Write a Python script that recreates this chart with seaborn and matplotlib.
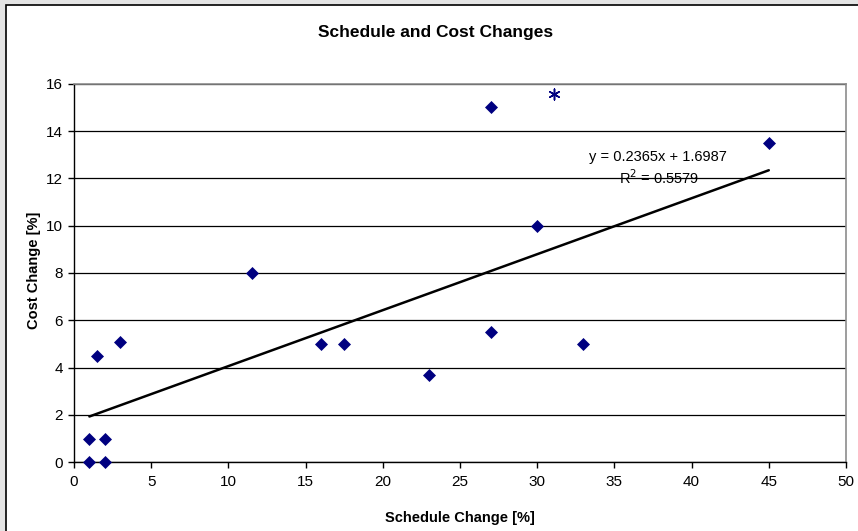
import seaborn as sns
import matplotlib.pyplot as plt
import pandas as pd
import numpy as np
from matplotlib.patches import Rectangle

sns.set_theme(style="white")
plt.rcParams['font.family'] = ['Liberation Sans', 'DejaVu Sans']
plt.rcParams.update({"text.color": "black", "axes.labelcolor": "black",
                     "xtick.color": "black", "ytick.color": "black"})

# Values
schedule_change = [1, 2, 1, 2, 1.5, 3, 11.5, 16, 17.5, 23, 27, 27, 30, 33, 45]
cost_change = [0, 0, 1, 1, 4.5, 5.1, 8, 5, 5, 3.7, 15, 5.5, 10, 5, 13.5]

# Trendline as reported on the chart
slope = 0.2365
intercept = 1.6987
r_squared = 0.5579

# stray asterisk marker
star_x = [31.1]
star_y = [15.57]

data = pd.DataFrame({"Schedule Change [%]": schedule_change,
                     "Cost Change [%]": cost_change})

fig = plt.figure(figsize=(8.58, 5.31), dpi=100)
fig.patch.set_facecolor("#E4E4E4")
# white chart area with black border
fig.patches.append(Rectangle((0.007, -0.02), 1.1, 1.0106, transform=fig.transFigure,
                             facecolor="white", edgecolor="black", linewidth=1.2, zorder=-1))

ax = fig.add_axes([0.0862, 0.1294, 0.8998, 0.713])
ax.set_facecolor("white")

sns.scatterplot(data=data, x="Schedule Change [%]", y="Cost Change [%]", ax=ax,
                marker="D", s=44, color="#000080", edgecolor="#000080", linewidth=0,
                zorder=4, clip_on=False)

# linear trendline from first to last x
xs = np.array([min(schedule_change), max(schedule_change)])
ax.plot(xs, slope * xs + intercept, color="black", linewidth=1.8, zorder=3)

ax.scatter(star_x, star_y, marker=(6, 2, 0), s=60, color="#000080", linewidth=1.1, zorder=5)

ax.text(37.8, 12.9, f"y = {slope}x + {intercept}", ha="center", va="center", fontsize=10.5)
ax.text(37.9, 12.03, f"R$^2$ = {r_squared}", ha="center", va="center", fontsize=10.5)

ax.set_xlim(0, 50)
ax.set_ylim(0, 16)
ax.set_xticks(range(0, 51, 5))
ax.set_yticks(range(0, 17, 2))
ax.yaxis.grid(True, color="black", linewidth=0.9)
ax.xaxis.grid(False)
ax.set_axisbelow(True)

for side in ["left", "bottom"]:
    ax.spines[side].set_color("black")
    ax.spines[side].set_linewidth(1.0)
for side in ["top", "right"]:
    ax.spines[side].set_color("#8C8C8C")
    ax.spines[side].set_linewidth(1.2)

ax.tick_params(axis="both", direction="out", length=4, width=1, color="black",
               labelsize=11, bottom=True, left=True)
ax.tick_params(axis="x", pad=5)
ax.tick_params(axis="y", pad=4)

ax.set_xlabel("Schedule Change [%]", fontsize=10.5, fontweight="bold")
ax.set_ylabel("Cost Change [%]", fontsize=10.5, fontweight="bold")
ax.xaxis.label.set_va("center")
ax.yaxis.label.set_va("center")
ax.xaxis.set_label_coords(0.5, -0.147)
ax.yaxis.set_label_coords(-0.052, 0.508)
fig.text(0.508, 0.938, "Schedule and Cost Changes", ha="center", va="center",
         fontsize=12.5, fontweight="bold")

fig.savefig("out.png", dpi=100, facecolor=fig.get_facecolor())
